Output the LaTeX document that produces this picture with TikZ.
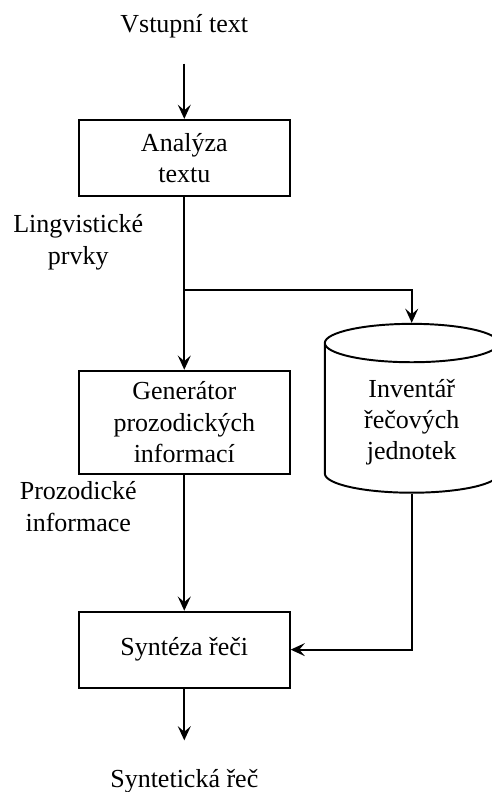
\documentclass[tikz,border=0pt]{standalone}
\usepackage{fontspec}
\setmainfont{Liberation Serif}
\usetikzlibrary{arrows.meta,positioning,shapes.geometric}

\begin{document}
\begin{tikzpicture}[
    font=\fontsize{12}{14.4}\selectfont,
    box/.style={draw, line width=0.9pt, minimum width=3.42cm, minimum height=1.23cm, align=center},
    cyl/.style={draw, line width=0.9pt, cylinder, shape border rotate=90, aspect=0.35, minimum width=2.82cm, minimum height=2.74cm, align=center},
    io/.style={align=center},
    lbl/.style={align=center},
    arr/.style={-{Stealth[length=2.3mm,width=2.1mm,inset=0.9mm]}, line width=0.9pt},
    con/.style={line width=0.9pt},
  ]
  \useasboundingbox (0,0) rectangle (7.98,-12.85);
  % main chain
  \node[io, anchor=base] (vst) at (2.99,-0.52) {Vstupní text};
  \node[box] (ana) at (2.99,-2.56) {Analýza\\textu};
  \node[box, minimum height=1.67cm] (gen) at (2.99,-6.85) {Generátor\\prozodických\\informací};
  \node[box] (syn) at (2.99,-10.54) {Syntéza řeči};
  \node[io, anchor=base] (out) at (2.99,-12.77) {Syntetická řeč};
  % unit inventory
  \node[cyl] (inv) at (6.68,-6.85) {Inventář\\řečových\\jednotek};
  \coordinate (br) at (2.99,-4.70);
  % side labels
  \node[lbl] (lling) at (1.27,-3.93) {Lingvistické\\prvky};
  \node[lbl] (lproz) at (1.27,-8.22) {Prozodické\\informace};

  \draw[arr, shorten <=0.3cm] (vst) -- (ana);
  \draw[con] (ana) -- (br);
  \draw[arr] (br) -- (gen);
  \draw[arr] (br) -| (inv.north);
  \draw[arr] (gen) -- (syn);
  \draw[arr] (inv.south) |- (syn.east);
  \draw[arr, shorten >=0.34cm] (syn) -- (out);
\end{tikzpicture}
\end{document}
